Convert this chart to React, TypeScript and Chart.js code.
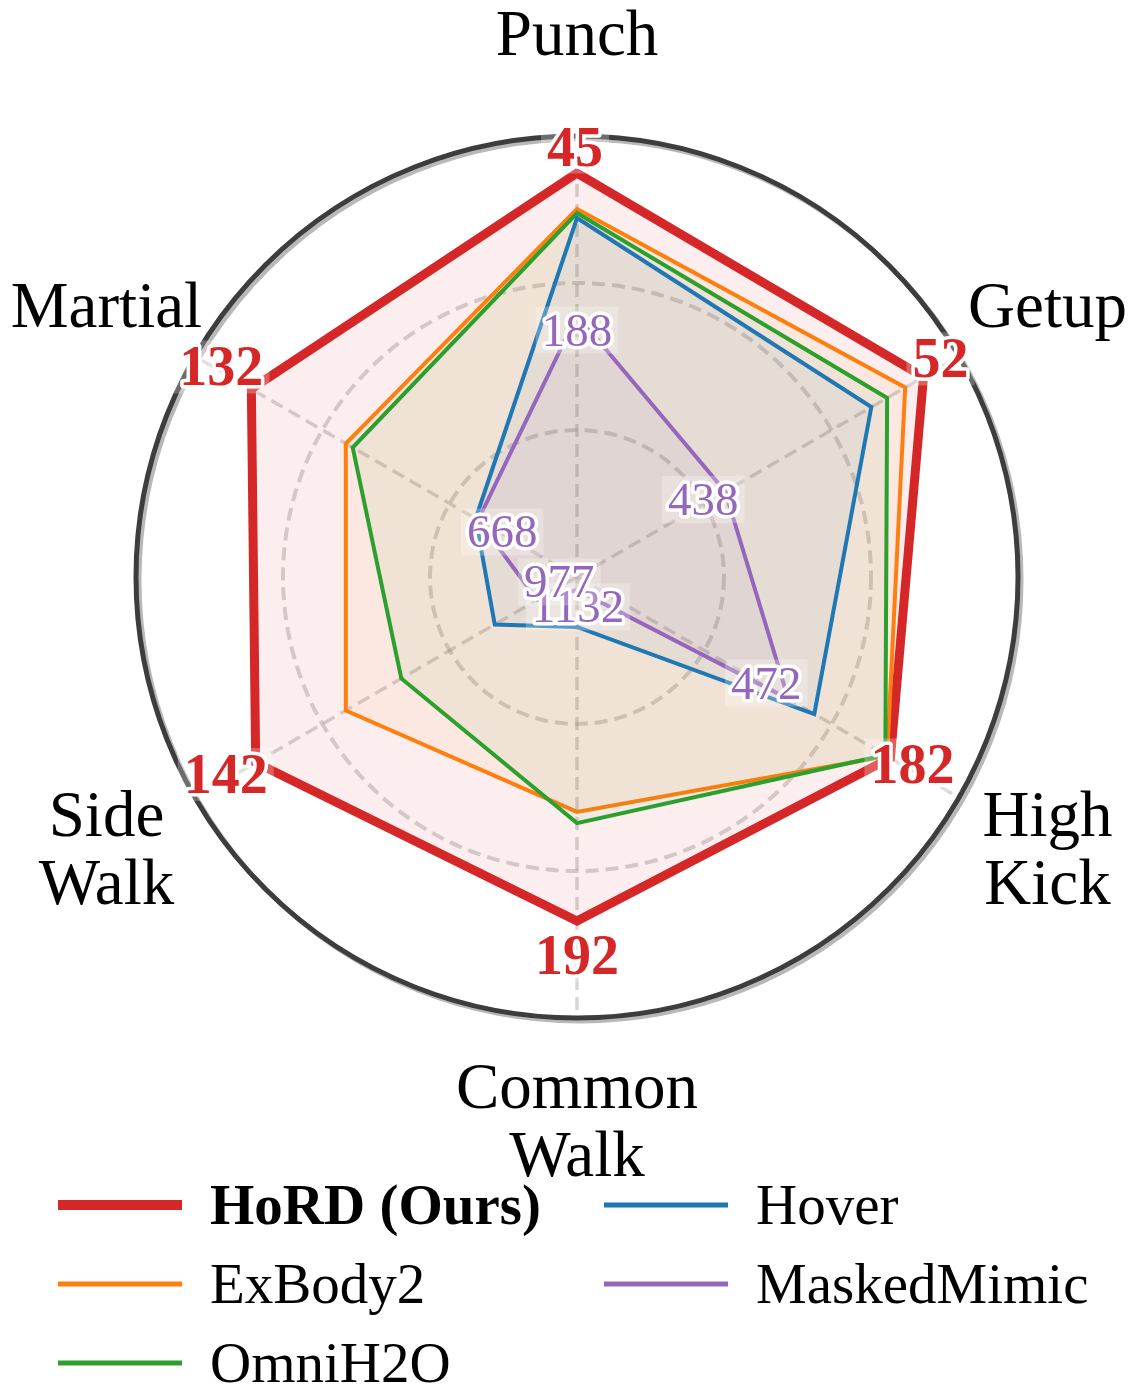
import React, { useEffect, useRef } from 'react';
import { Chart, registerables } from 'chart.js';

Chart.register(...registerables);

const W = 1134;
const H = 1398;

// Axis categories (clockwise from top)
const categoryLines: string[][] = [['Punch'], ['Getup'], ['High', 'Kick'], ['Common', 'Walk'], ['Side', 'Walk'], ['Martial']];
const categories = categoryLines.map((l) => l.join(' '));

// Normalised radar values (scale 0 .. 1.5)
const hordValues = [1.374, 1.361, 1.231, 1.17, 1.262, 1.279];
const exbody2Values = [1.252, 1.289, 1.218, 0.799, 0.908, 0.908];
const omnih2oValues = [1.238, 1.218, 1.211, 0.837, 0.69, 0.881];
const hoverValues = [1.221, 1.156, 0.932, 0.17, 0.323, 0.398];
const maskedMimicValues = [0.891, 0.582, 0.83, 0.044, 0.156, 0.388];

// Raw values annotated on the chart
const hordRaw = [45, 52, 182, 192, 142, 132];
const maskedRaw = [188, 438, 472, 1132, 977, 668];

const seriesNames = ['HoRD (Ours)', 'ExBody2', 'OmniH2O', 'Hover', 'MaskedMimic'];
const seriesData = [hordValues, exbody2Values, omnih2oValues, hoverValues, maskedMimicValues];
const seriesColors = ['#d62728', '#ff7f0e', '#2ca02c', '#1f77b4', '#9467bd'];
const seriesRgb = [[214, 39, 40], [255, 127, 14], [44, 160, 44], [31, 119, 180], [148, 103, 189]];
const seriesWidths = [9, 4, 4, 4, 4];
const fillAlpha = [0.08, 0.06, 0.06, 0.06, 0.06];

const scaleMax = 1.5;
const scaleStep = 0.5;

// annotation label offsets (px) from the vertex
const hordLabelOffsets = [[-2, -26], [17, -18], [22, 7], [0, 35], [-30, 12], [-30, -22]];
const maskedLabelOffsets = [[0, 15], [-22, 8], [-22, -16], [1, 17], [22, -18], [24, 12]];

// legend layout: [seriesIndex, column, row]
const legendSlots = [[0, 0, 0], [1, 0, 1], [2, 0, 2], [3, 1, 0], [4, 1, 1]];

const SERIF = '"Liberation Serif", "Times New Roman", serif';

function drawValueLabel(ctx: CanvasRenderingContext2D, text: string, cx: number, cy: number, color: string, bold: boolean, fs: number) {
  ctx.save();
  ctx.font = `${bold ? 'bold ' : ''}${fs}px ${SERIF}`;
  ctx.textAlign = 'center';
  ctx.textBaseline = 'alphabetic';
  const w = ctx.measureText(text).width;
  const capH = fs * 0.66;
  ctx.fillStyle = 'rgba(255,255,255,0.25)';
  ctx.fillRect(cx - w / 2 - 6, cy - capH / 2 - 8, w + 12, capH + 16);
  const by = cy + capH / 2;
  ctx.lineJoin = 'round';
  ctx.strokeStyle = '#ffffff';
  ctx.lineWidth = 7;
  ctx.strokeText(text, cx, by);
  ctx.fillStyle = color;
  ctx.fillText(text, cx, by);
  ctx.restore();
}

const overlayPlugin = {
  id: 'overlay',
  afterDraw(chart: any) {
    const ctx: CanvasRenderingContext2D = chart.ctx;
    const scale = chart.scales.r;
    const cx = scale.xCenter;
    const cy = scale.yCenter;
    const R = scale.drawingArea;

    // outer circle with shadow
    ctx.save();
    ctx.lineWidth = 5;
    ctx.strokeStyle = 'rgba(0,0,0,0.28)';
    ctx.beginPath();
    ctx.arc(cx + 3, cy + 3, R, 0, Math.PI * 2);
    ctx.stroke();
    ctx.strokeStyle = '#3d3d3d';
    ctx.beginPath();
    ctx.arc(cx, cy, R, 0, Math.PI * 2);
    ctx.stroke();
    ctx.restore();

    // category labels
    ctx.save();
    const cfs = 65;
    ctx.font = `${cfs}px ${SERIF}`;
    ctx.fillStyle = '#000';
    ctx.textAlign = 'center';
    ctx.textBaseline = 'alphabetic';
    categoryLines.forEach((lines, i) => {
      const p = scale.getPointPosition(i, R * 1.232);
      const lh = 68;
      lines.forEach((line, j) => {
        const y = p.y + (j - (lines.length - 1) / 2) * lh + cfs * 0.33;
        ctx.fillText(line, p.x, y);
      });
    });
    ctx.restore();

    // value annotations
    maskedRaw.forEach((v, i) => {
      const p = scale.getPointPositionForValue(i, maskedMimicValues[i]);
      drawValueLabel(ctx, String(v), p.x + maskedLabelOffsets[i][0], p.y + maskedLabelOffsets[i][1], seriesColors[4], false, 47);
    });
    hordRaw.forEach((v, i) => {
      const p = scale.getPointPositionForValue(i, hordValues[i]);
      drawValueLabel(ctx, String(v), p.x + hordLabelOffsets[i][0], p.y + hordLabelOffsets[i][1], seriesColors[0], true, 56);
    });

    // legend
    ctx.save();
    const colX = [58, 604];
    const rowY = [1205, 1284, 1363];
    const lineLen = 124;
    const textGap = 28;
    const lfs = 57;
    legendSlots.forEach(([si, col, row]) => {
      const x = colX[col];
      const y = rowY[row];
      ctx.strokeStyle = seriesColors[si];
      ctx.lineWidth = si === 0 ? 10 : 5;
      ctx.lineCap = 'butt';
      ctx.beginPath();
      ctx.moveTo(x, y);
      ctx.lineTo(x + lineLen, y);
      ctx.stroke();
      ctx.font = `${si === 0 ? 'bold ' : ''}${lfs}px ${SERIF}`;
      ctx.fillStyle = '#000';
      ctx.textAlign = 'left';
      ctx.textBaseline = 'alphabetic';
      ctx.fillText(seriesNames[si], x + lineLen + textGap, y + lfs * 0.33);
    });
    ctx.restore();
  },
};

export default function App() {
  const canvasRef = useRef<HTMLCanvasElement | null>(null);

  useEffect(() => {
    const canvas = canvasRef.current;
    if (!canvas) return;
    const gridColor = 'rgba(150,150,150,0.4)';
    const chart = new Chart(canvas, {
      type: 'radar',
      data: {
        labels: categories,
        datasets: seriesData.map((data, i) => ({
          label: seriesNames[i],
          data,
          borderColor: seriesColors[i],
          backgroundColor: `rgba(${seriesRgb[i][0]},${seriesRgb[i][1]},${seriesRgb[i][2]},${fillAlpha[i]})`,
          borderWidth: seriesWidths[i],
          borderJoinStyle: 'miter',
          fill: true,
          order: seriesData.length - i,
          pointRadius: 0,
          pointHoverRadius: 0,
          tension: 0,
        })),
      },
      options: {
        responsive: false,
        animation: false,
        devicePixelRatio: 1,
        layout: { padding: { left: 136, right: 116, top: 136, bottom: 380 } },
        plugins: {
          legend: { display: false },
          tooltip: { enabled: false },
        },
        scales: {
          r: {
            min: 0,
            max: scaleMax,
            ticks: { display: false, stepSize: scaleStep },
            pointLabels: { display: false },
            grid: {
              circular: true,
              color: (c: any) => (c.tick && c.tick.value >= scaleMax ? 'rgba(0,0,0,0)' : gridColor),
              lineWidth: 4,
            },
            border: { dash: [13, 7] },
            angleLines: { color: gridColor, lineWidth: 3.5, borderDash: [13, 7] },
          },
        },
      } as any,
      plugins: [overlayPlugin],
    });
    return () => chart.destroy();
  }, []);

  return (
    <div style={{ position: 'absolute', left: 0, top: 0, width: W, height: H, background: '#fff' }}>
      <canvas ref={canvasRef} width={W} height={H} style={{ width: W, height: H, display: 'block' }} />
    </div>
  );
}
